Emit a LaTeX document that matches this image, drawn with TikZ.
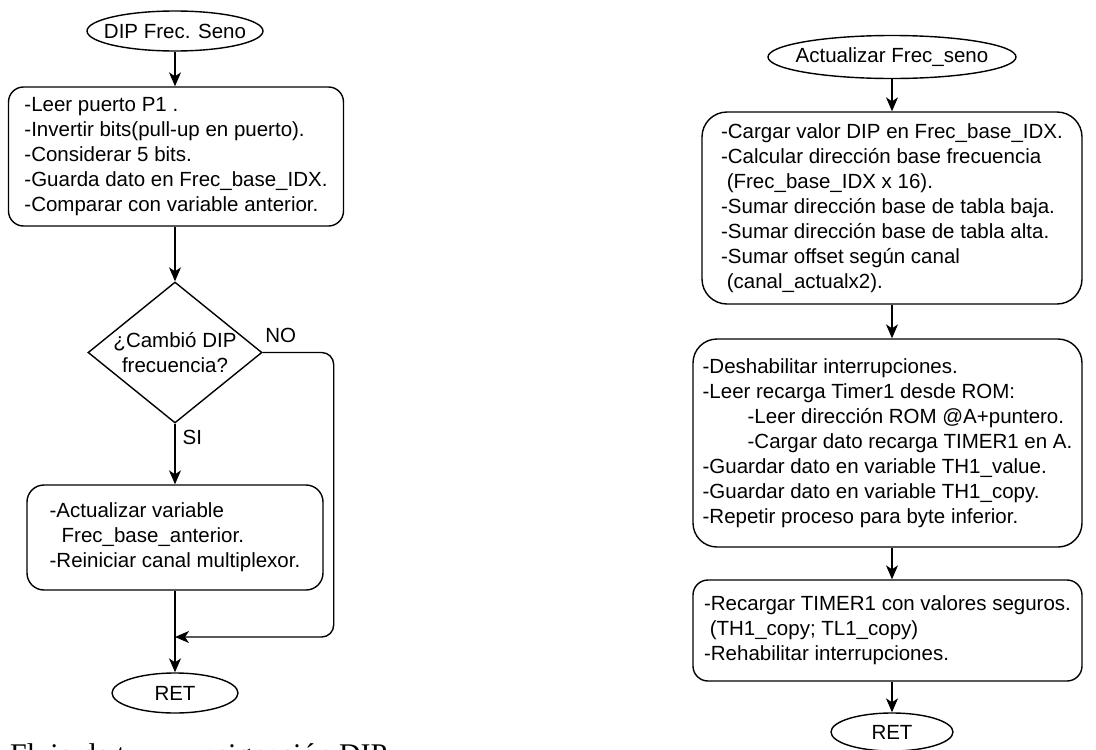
\documentclass[tikz,border=0pt]{standalone}
\usepackage{fontspec}
\setmainfont{Liberation Sans}
\newfontfamily\capfont{Liberation Serif}
\usetikzlibrary{shapes.geometric,arrows.meta}
\begin{document}
\begin{tikzpicture}[x=1pt,y=-1pt,
  txt/.style={font=\fontsize{20.5}{25}\selectfont},
  procbox/.style={draw, line width=1.4pt, rounded corners=#1, align=left, txt, inner sep=0pt},
  procbox/.default=15pt,
  term/.style={draw, ellipse, line width=1.4pt, inner sep=0pt},
  decision/.style={draw, diamond, line width=1.4pt, inner sep=0pt, minimum width=174pt, minimum height=141pt},
  arr/.style={line width=1.4pt, -{Stealth[length=14pt,width=12pt,inset=4pt]}},
  lbl/.style={txt, inner sep=2pt}
]
\useasboundingbox (0,0) rectangle (1096,750);

% ---------- left flowchart ----------
\node[term, minimum width=176pt, minimum height=40pt, label={[txt]center:DIP Frec. Seno}] (s1) at (175,31) {};
\node[procbox=15pt, minimum width=335pt, minimum height=139pt] (b1) at (176,156.5)
  {-Leer puerto P1 .\\-Invertir bits(pull-up en puerto).\\-Considerar 5 bits.\\-Guarda dato en Frec\_base\_IDX.\\-Comparar con variable anterior.};
\node[decision, label={[txt,align=center]center:¿Cambió DIP\\frecuencia?}] (d) at (175,352.5) {};
\node[procbox=17pt, minimum width=296pt, minimum height=105pt] (b2) at (175,537.5)
  {-Actualizar variable\\\hspace*{12pt}Frec\_base\_anterior.\\-Reiniciar canal multiplexor.};
\node[term, minimum width=126pt, minimum height=40pt, label={[txt]center:RET}] (r1) at (175,693) {};
\coordinate (j) at (175,637);

\draw[arr] (s1.south) -- (s1.south |- b1.north);
\draw[arr] (s1.south |- b1.south) -- (d.north);
\draw[arr] (d.south) -- node[lbl, pos=0.22, anchor=west, xshift=5pt] (si) {SI} (b2.north);
\draw[arr] (b2.south) -- (r1.north);
\draw[arr, rounded corners=12pt] (d.east) -- node[lbl, pos=0, anchor=south west, yshift=7pt] (no) {NO} ++(71,0) |- (j);

% ---------- right flowchart ----------
\node[term, minimum width=248pt, minimum height=43pt, label={[txt]center:Actualizar Frec\_seno}] (s2) at (892,57) {};
\node[procbox=25pt, minimum width=380pt, minimum height=192pt] (b3) at (892,208)
  {-Cargar valor DIP en Frec\_base\_IDX.\\-Calcular dirección base frecuencia\\\hspace*{5.7pt}(Frec\_base\_IDX x 16).\\-Sumar dirección base de tabla baja.\\-Sumar dirección base de tabla alta.\\-Sumar offset según canal\\\hspace*{5.7pt}(canal\_actualx2).};
\node[procbox=24pt, minimum width=389pt, minimum height=208pt] (b4) at (887.5,443)
  {-Deshabilitar interrupciones.\\-Leer recarga Timer1 desde ROM:\\\hspace*{45pt}-Leer dirección ROM @A+puntero.\\\hspace*{45pt}-Cargar dato recarga TIMER1 en A.\\-Guardar dato en variable TH1\_value.\\-Guardar dato en variable TH1\_copy.\\-Repetir proceso para byte inferior.};
\node[procbox=15pt, minimum width=389pt, minimum height=101pt] (b5) at (887.5,630.5)
  {-Recargar TIMER1 con valores seguros.\\\hspace*{5.7pt}(TH1\_copy; TL1\_copy)\\-Rehabilitar interrupciones.};
\node[term, minimum width=122pt, minimum height=38pt, label={[txt]center:RET}] (r2) at (892,732) {};

\draw[arr] (s2.south) -- (b3.north);
\draw[arr] (b3.south) -- (b3.south |- b4.north);
\draw[arr] (b4.south -| s2.south) -- (b5.north -| s2.south);
\draw[arr] (b5.south -| s2.south) -- (r2.north);

% ---------- caption (cut by the page edge) ----------
\node[font=\capfont\fontsize{30}{36}\selectfont, anchor=base west, inner sep=0pt] (cap) at (10,764) {Flujo de t\hspace*{78pt}asignación DIP};
\end{tikzpicture}
\end{document}
